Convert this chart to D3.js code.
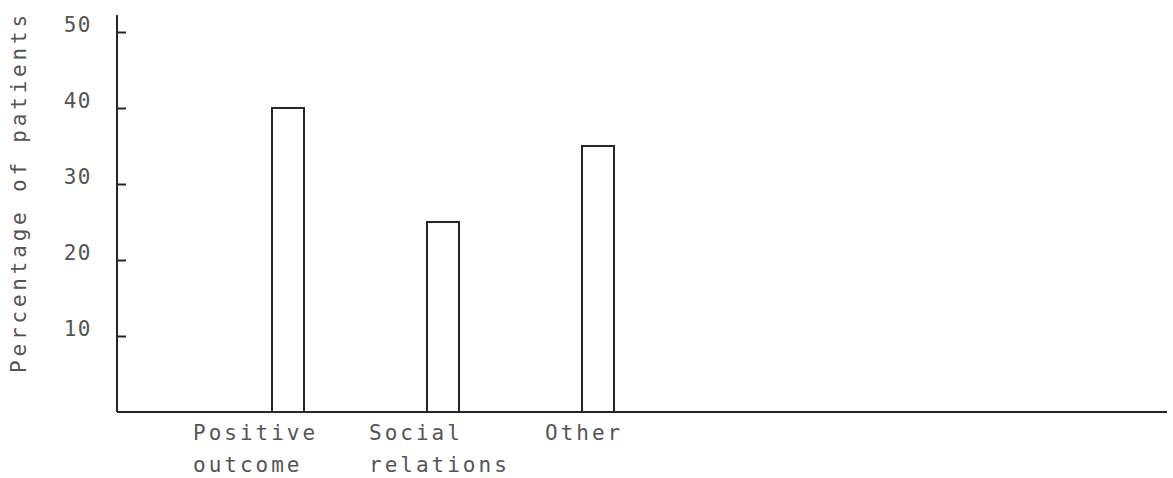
<!DOCTYPE html>
<html>
<head>
<meta charset="utf-8">
<script src="https://cdn.jsdelivr.net/npm/d3@7"></script>
<style>
  html, body { margin: 0; padding: 0; background: #fff; }
  svg text { font-family: "DejaVu Sans Mono", "Liberation Mono", monospace; fill: #555; }
</style>
</head>
<body>
<svg id="chart" width="1173" height="478"></svg>
<script>
// Reasons given, as percentage of patients
const categories = ["Positive outcome", "Social relations", "Other"];
const labelLines = [["Positive", "outcome"], ["Social", "relations"], ["Other"]];
const percentages = [40, 25, 35];
const yTicks = [10, 20, 30, 40, 50];
const yTitle = "Percentage of patients";

const svg = d3.select("#chart");
const ink = "#262626";

const y = d3.scaleLinear().domain([0, 50]).range([412, 32]);
const x = d3.scalePoint().domain(categories).range([288, 598]);
const xLabel = d3.scalePoint().domain(categories).range([193, 545]);
const barW = 32;
const axisX = 117;
const axisRight = 1167;

// axes
svg.append("line")
  .attr("x1", axisX).attr("x2", axisX)
  .attr("y1", 15).attr("y2", y(0))
  .attr("stroke", ink).attr("stroke-width", 2);
svg.append("line")
  .attr("x1", axisX).attr("x2", axisRight)
  .attr("y1", y(0)).attr("y2", y(0))
  .attr("stroke", ink).attr("stroke-width", 2);

// y ticks point inward
const yAxis = d3.axisRight(y).tickValues(yTicks).tickSize(9).tickFormat("");
const g = svg.append("g").attr("transform", `translate(${axisX},0)`).call(yAxis);
g.select(".domain").remove();
g.selectAll(".tick line").attr("stroke", ink).attr("stroke-width", 2);

svg.selectAll(".ylab").data(yTicks).join("text")
  .attr("class", "ylab")
  .attr("x", 92).attr("y", d => y(d) - 6)
  .attr("text-anchor", "end")
  .attr("dominant-baseline", "middle")
  .attr("font-size", 21)
  .attr("letter-spacing", 1.5)
  .text(d => d);

// y title
svg.append("text")
  .attr("transform", `translate(26,${192}) rotate(-90)`)
  .attr("text-anchor", "middle")
  .attr("font-size", 21)
  .attr("letter-spacing", 3.8)
  .text(yTitle);

// open bars (no bottom edge, sits on the baseline)
svg.selectAll(".bar").data(percentages).join("path")
  .attr("class", "bar")
  .attr("d", (d, i) => {
    const x0 = x(categories[i]) - barW / 2, x1 = x0 + barW;
    return `M${x0},${y(0)}V${y(d)}H${x1}V${y(0)}`;
  })
  .attr("fill", "none")
  .attr("stroke", ink).attr("stroke-width", 2);

// category labels
const lab = svg.selectAll(".xlab").data(categories).join("text")
  .attr("class", "xlab")
  .attr("font-size", 21)
  .attr("letter-spacing", 3)
  .attr("x", d => xLabel(d))
  .attr("y", 440);
lab.selectAll("tspan").data((d, i) => labelLines[i]).join("tspan")
  .attr("x", function () { return d3.select(this.parentNode).attr("x"); })
  .attr("dy", (d, j) => j === 0 ? 0 : 32)
  .text(d => d);
</script>
</body>
</html>
